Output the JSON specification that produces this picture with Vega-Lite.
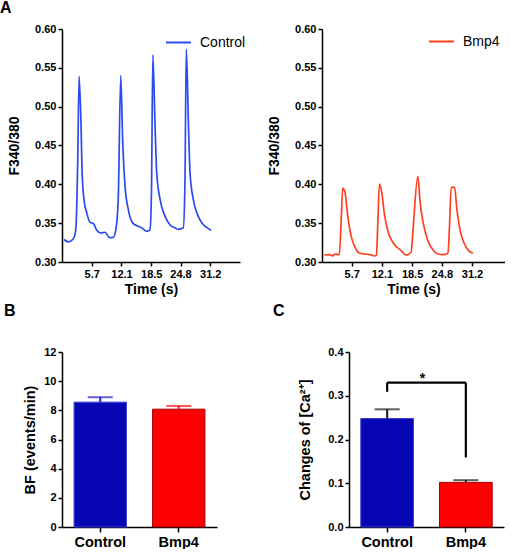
{
  "$schema": "https://vega.github.io/schema/vega-lite/v6.json",
  "background": "white",
  "padding": 0,
  "datasets": {
    "trace": [
      {"group": "Control", "t": -0.26, "v": 0.329},
      {"group": "Control", "t": 0.67, "v": 0.326},
      {"group": "Control", "t": 1.6, "v": 0.329},
      {"group": "Control", "t": 2.05, "v": 0.334},
      {"group": "Control", "t": 2.32, "v": 0.346},
      {"group": "Control", "t": 2.69, "v": 0.432},
      {"group": "Control", "t": 2.98, "v": 0.539},
      {"group": "Control", "t": 3.4, "v": 0.475},
      {"group": "Control", "t": 3.61, "v": 0.419},
      {"group": "Control", "t": 4.04, "v": 0.38},
      {"group": "Control", "t": 4.6, "v": 0.364},
      {"group": "Control", "t": 5.33, "v": 0.351},
      {"group": "Control", "t": 6.05, "v": 0.3495},
      {"group": "Control", "t": 6.78, "v": 0.341},
      {"group": "Control", "t": 7.64, "v": 0.3375},
      {"group": "Control", "t": 8.56, "v": 0.3383},
      {"group": "Control", "t": 9.5, "v": 0.3314},
      {"group": "Control", "t": 10.35, "v": 0.3318},
      {"group": "Control", "t": 10.9, "v": 0.342},
      {"group": "Control", "t": 11.4, "v": 0.38},
      {"group": "Control", "t": 11.94, "v": 0.54},
      {"group": "Control", "t": 12.37, "v": 0.454},
      {"group": "Control", "t": 12.86, "v": 0.398},
      {"group": "Control", "t": 13.57, "v": 0.3675},
      {"group": "Control", "t": 14.5, "v": 0.3504},
      {"group": "Control", "t": 15.7, "v": 0.346},
      {"group": "Control", "t": 16.45, "v": 0.344},
      {"group": "Control", "t": 17.5, "v": 0.3395},
      {"group": "Control", "t": 18.24, "v": 0.3417},
      {"group": "Control", "t": 18.55, "v": 0.39},
      {"group": "Control", "t": 18.85, "v": 0.5665},
      {"group": "Control", "t": 19.3, "v": 0.4795},
      {"group": "Control", "t": 19.68, "v": 0.415},
      {"group": "Control", "t": 20.4, "v": 0.3805},
      {"group": "Control", "t": 21.46, "v": 0.359},
      {"group": "Control", "t": 22.5, "v": 0.348},
      {"group": "Control", "t": 23.6, "v": 0.344},
      {"group": "Control", "t": 24.3, "v": 0.342},
      {"group": "Control", "t": 25.4, "v": 0.344},
      {"group": "Control", "t": 25.75, "v": 0.4},
      {"group": "Control", "t": 26.05, "v": 0.574},
      {"group": "Control", "t": 26.5, "v": 0.4795},
      {"group": "Control", "t": 26.85, "v": 0.415},
      {"group": "Control", "t": 27.55, "v": 0.3805},
      {"group": "Control", "t": 28.6, "v": 0.359},
      {"group": "Control", "t": 29.7, "v": 0.348},
      {"group": "Control", "t": 30.6, "v": 0.344},
      {"group": "Control", "t": 31.35, "v": 0.3408},
      {"group": "Bmp4", "t": -0.12, "v": 0.309},
      {"group": "Bmp4", "t": 0.94, "v": 0.3094},
      {"group": "Bmp4", "t": 1.66, "v": 0.308},
      {"group": "Bmp4", "t": 2.15, "v": 0.3103},
      {"group": "Bmp4", "t": 3.06, "v": 0.3094},
      {"group": "Bmp4", "t": 3.43, "v": 0.347},
      {"group": "Bmp4", "t": 3.79, "v": 0.395},
      {"group": "Bmp4", "t": 4.28, "v": 0.3897},
      {"group": "Bmp4", "t": 4.85, "v": 0.3597},
      {"group": "Bmp4", "t": 5.55, "v": 0.3339},
      {"group": "Bmp4", "t": 6.25, "v": 0.321},
      {"group": "Bmp4", "t": 7.3, "v": 0.3116},
      {"group": "Bmp4", "t": 8.38, "v": 0.3103},
      {"group": "Bmp4", "t": 9.65, "v": 0.3094},
      {"group": "Bmp4", "t": 10.5, "v": 0.3077},
      {"group": "Bmp4", "t": 10.93, "v": 0.309},
      {"group": "Bmp4", "t": 11.22, "v": 0.347},
      {"group": "Bmp4", "t": 11.57, "v": 0.4004},
      {"group": "Bmp4", "t": 12.07, "v": 0.3897},
      {"group": "Bmp4", "t": 12.63, "v": 0.3618},
      {"group": "Bmp4", "t": 13.35, "v": 0.3403},
      {"group": "Bmp4", "t": 14.4, "v": 0.3254},
      {"group": "Bmp4", "t": 15.3, "v": 0.319},
      {"group": "Bmp4", "t": 16.18, "v": 0.3146},
      {"group": "Bmp4", "t": 17.24, "v": 0.309},
      {"group": "Bmp4", "t": 18.3, "v": 0.3125},
      {"group": "Bmp4", "t": 18.66, "v": 0.338},
      {"group": "Bmp4", "t": 19.72, "v": 0.4103},
      {"group": "Bmp4", "t": 20.2, "v": 0.3768},
      {"group": "Bmp4", "t": 20.9, "v": 0.349},
      {"group": "Bmp4", "t": 21.85, "v": 0.3274},
      {"group": "Bmp4", "t": 22.9, "v": 0.3158},
      {"group": "Bmp4", "t": 23.97, "v": 0.3103},
      {"group": "Bmp4", "t": 25.0, "v": 0.3094},
      {"group": "Bmp4", "t": 26.1, "v": 0.3112},
      {"group": "Bmp4", "t": 26.44, "v": 0.347},
      {"group": "Bmp4", "t": 26.8, "v": 0.3962},
      {"group": "Bmp4", "t": 27.5, "v": 0.3962},
      {"group": "Bmp4", "t": 28.0, "v": 0.3682},
      {"group": "Bmp4", "t": 28.7, "v": 0.3403},
      {"group": "Bmp4", "t": 29.6, "v": 0.3232},
      {"group": "Bmp4", "t": 30.5, "v": 0.3146},
      {"group": "Bmp4", "t": 31.4, "v": 0.3112}
    ],
    "beat": [
      {"group": "Control", "mean": 8.56, "upper": 8.9},
      {"group": "Bmp4", "mean": 8.08, "upper": 8.3}
    ],
    "calcium": [
      {"group": "Control", "mean": 0.248, "upper": 0.269},
      {"group": "Bmp4", "mean": 0.102, "upper": 0.107}
    ],
    "bracket": [
      {"from": "Control", "to": "Control", "y": 0.309, "y2": 0.33},
      {"from": "Control", "to": "Bmp4", "y": 0.33, "y2": 0.33},
      {"from": "Bmp4", "to": "Bmp4", "y": 0.33, "y2": 0.159}
    ],
    "star": [
      {"group": "Control", "y": 0.338, "label": "*"}
    ]
  },
  "spacing": 7,
  "resolve": {"scale": {"x": "independent", "y": "independent", "color": "independent", "fill": "independent", "stroke": "independent"}},
  "vconcat": [
    {
      "spacing": 21,
      "resolve": {"scale": {"x": "independent", "y": "independent", "color": "independent"}},
      "hconcat": [
        {
          "width": 178,
          "height": 233,
          "title": {"text": "A", "dx": -62, "offset": 7},
          "data": {"name": "trace"},
          "transform": [{"filter": "datum.group === 'Control'"}],
          "mark": {"type": "line", "interpolate": "monotone", "strokeWidth": 1.7},
          "encoding": {
            "x": {"field": "t", "type": "quantitative",
                  "scale": {"domain": [-0.7, 37.6], "nice": false, "zero": false},
                  "axis": {"values": [5.7, 12.1, 18.5, 24.8, 31.2], "format": ".1f", "title": "Time (s)", "titlePadding": 3}},
            "y": {"field": "v", "type": "quantitative",
                  "scale": {"domain": [0.3, 0.6], "nice": false, "zero": false},
                  "axis": {"values": [0.3, 0.35, 0.4, 0.45, 0.5, 0.55, 0.6], "format": ".2f", "title": "F340/380", "titlePadding": 13}},
            "color": {"field": "group", "type": "nominal",
                      "scale": {"domain": ["Control"], "range": ["#2a4bf0"]},
                      "legend": {"title": null, "orient": "none", "legendX": 103, "legendY": 0, "symbolType": "stroke", "symbolSize": 625, "symbolStrokeWidth": 2, "labelFontSize": 14, "labelFontWeight": "normal", "labelOffset": 8, "padding": 0}}
          }
        },
        {
          "width": 183,
          "height": 233,
          "data": {"name": "trace"},
          "transform": [{"filter": "datum.group === 'Bmp4'"}],
          "mark": {"type": "line", "interpolate": "monotone", "strokeWidth": 1.7},
          "encoding": {
            "x": {"field": "t", "type": "quantitative",
                  "scale": {"domain": [-0.6, 38.2], "nice": false, "zero": false},
                  "axis": {"values": [5.7, 12.1, 18.5, 24.8, 31.2], "format": ".1f", "title": "Time (s)", "titlePadding": 3}},
            "y": {"field": "v", "type": "quantitative",
                  "scale": {"domain": [0.3, 0.6], "nice": false, "zero": false},
                  "axis": {"values": [0.3, 0.35, 0.4, 0.45, 0.5, 0.55, 0.6], "format": ".2f", "title": "F340/380", "titlePadding": 13}},
            "color": {"field": "group", "type": "nominal",
                      "scale": {"domain": ["Bmp4"], "range": ["#ff4020"]},
                      "legend": {"title": null, "orient": "none", "legendX": 106, "legendY": -1, "symbolType": "stroke", "symbolSize": 625, "symbolStrokeWidth": 2, "labelFontSize": 14, "labelFontWeight": "normal", "labelOffset": 8, "padding": 0}}
          }
        }
      ]
    },
    {
      "spacing": 56,
      "resolve": {"scale": {"x": "independent", "y": "independent", "fill": "independent", "stroke": "independent"}},
      "hconcat": [
        {
          "width": 155,
          "height": 175,
          "title": {"text": "B", "dx": -58, "offset": 27},
          "data": {"name": "beat"},
          "encoding": {
            "x": {"field": "group", "type": "nominal", "sort": null,
                  "scale": {"paddingInner": 0.333, "paddingOuter": 0.154},
                  "axis": {"title": null, "labelAngle": 0, "labelFontSize": 14.5, "labelPadding": 3, "tickSize": 5}}
          },
          "layer": [
            {
              "mark": {"type": "bar", "strokeWidth": 1},
              "encoding": {
                "y": {"field": "mean", "type": "quantitative",
                      "scale": {"domain": [0, 12], "nice": false},
                      "axis": {"values": [0, 2, 4, 6, 8, 10, 12], "title": "BF (events/min)", "titlePadding": 6, "titleFontSize": 14.5}},
                "fill": {"field": "group", "type": "nominal", "scale": {"domain": ["Control", "Bmp4"], "range": ["#0606b4", "#ff0000"]}, "legend": null},
                "stroke": {"field": "group", "type": "nominal", "scale": {"domain": ["Control", "Bmp4"], "range": ["#3a3ad0", "#a00000"]}, "legend": null}
              }
            },
            {
              "mark": {"type": "rule", "strokeWidth": 2},
              "encoding": {
                "y": {"field": "mean", "type": "quantitative",
                      "axis": {"values": [0, 2, 4, 6, 8, 10, 12], "title": "BF (events/min)", "titlePadding": 6, "titleFontSize": 14.5}},
                "y2": {"field": "upper"},
                "color": {"field": "group", "type": "nominal", "scale": {"domain": ["Control", "Bmp4"], "range": ["#2020c8", "#ff1010"]}, "legend": null}
              }
            },
            {
              "mark": {"type": "tick", "orient": "horizontal", "size": 25, "thickness": 2},
              "encoding": {
                "y": {"field": "upper", "type": "quantitative",
                      "axis": {"values": [0, 2, 4, 6, 8, 10, 12], "title": "BF (events/min)", "titlePadding": 6, "titleFontSize": 14.5}},
                "color": {"field": "group", "type": "nominal", "scale": {"domain": ["Control", "Bmp4"], "range": ["#2020c8", "#ff1010"]}, "legend": null}
              }
            }
          ]
        },
        {
          "width": 155,
          "height": 175,
          "title": {"text": "C", "dx": -76, "offset": 27},
          "encoding": {
            "x": {"field": "group", "type": "nominal", "sort": ["Control", "Bmp4"],
                  "scale": {"domain": ["Control", "Bmp4"], "paddingInner": 0.33, "paddingOuter": 0.15},
                  "axis": {"title": null, "labelAngle": 0, "labelFontSize": 14.5, "labelPadding": 3, "tickSize": 5}}
          },
          "layer": [
            {
              "data": {"name": "calcium"},
              "mark": {"type": "bar", "strokeWidth": 1},
              "encoding": {
                "y": {"field": "mean", "type": "quantitative",
                      "scale": {"domain": [0, 0.4], "nice": false},
                      "axis": {"values": [0, 0.1, 0.2, 0.3, 0.4], "format": ".1f", "title": "Changes of [Ca²⁺]", "titlePadding": 15, "titleFontSize": 14.5}},
                "fill": {"field": "group", "type": "nominal", "scale": {"domain": ["Control", "Bmp4"], "range": ["#0606b4", "#ff0000"]}, "legend": null},
                "stroke": {"field": "group", "type": "nominal", "scale": {"domain": ["Control", "Bmp4"], "range": ["#3a3ad0", "#a00000"]}, "legend": null}
              }
            },
            {
              "data": {"name": "calcium"},
              "mark": {"type": "rule", "strokeWidth": 2},
              "encoding": {
                "y": {"field": "mean", "type": "quantitative",
                      "axis": {"values": [0, 0.1, 0.2, 0.3, 0.4], "format": ".1f", "title": "Changes of [Ca²⁺]", "titlePadding": 15, "titleFontSize": 14.5}},
                "y2": {"field": "upper"},
                "color": {"value": "#1a1a1a"}
              }
            },
            {
              "data": {"name": "calcium"},
              "mark": {"type": "tick", "orient": "horizontal", "size": 25, "thickness": 2, "color": "#1a1a1a"},
              "encoding": {
                "y": {"field": "upper", "type": "quantitative",
                      "axis": {"values": [0, 0.1, 0.2, 0.3, 0.4], "format": ".1f", "title": "Changes of [Ca²⁺]", "titlePadding": 15, "titleFontSize": 14.5}}
              }
            },
            {
              "data": {"name": "bracket"},
              "mark": {"type": "rule", "strokeWidth": 2.2, "color": "#000"},
              "encoding": {
                "x": {"field": "from", "type": "nominal"},
                "x2": {"field": "to"},
                "y": {"field": "y", "type": "quantitative",
                      "axis": {"values": [0, 0.1, 0.2, 0.3, 0.4], "format": ".1f", "title": "Changes of [Ca²⁺]", "titlePadding": 15, "titleFontSize": 14.5}},
                "y2": {"field": "y2"}
              }
            },
            {
              "data": {"name": "star"},
              "mark": {"type": "text", "fontSize": 14, "fontWeight": "bold", "baseline": "middle", "align": "center", "color": "#000"},
              "encoding": {
                "x": {"field": "group", "type": "nominal", "bandPosition": 1.17},
                "y": {"field": "y", "type": "quantitative",
                      "axis": {"values": [0, 0.1, 0.2, 0.3, 0.4], "format": ".1f", "title": "Changes of [Ca²⁺]", "titlePadding": 15, "titleFontSize": 14.5}},
                "text": {"field": "label"}
              }
            }
          ]
        }
      ]
    }
  ],
  "config": {
    "font": "Liberation Sans",
    "view": {"stroke": null},
    "axis": {
      "grid": false,
      "domainColor": "#000",
      "domainWidth": 1.5,
      "tickColor": "#000",
      "tickWidth": 1.5,
      "tickSize": 4,
      "labelFont": "Liberation Sans",
      "labelFontWeight": "bold",
      "labelFontSize": 11,
      "labelColor": "#000",
      "labelPadding": 2,
      "titleFont": "Liberation Sans",
      "titleFontWeight": "bold",
      "titleFontSize": 14,
      "titleColor": "#000"
    },
    "legend": {"labelFont": "Liberation Sans", "labelColor": "#000"},
    "title": {"font": "Liberation Sans", "fontSize": 16, "fontWeight": "bold", "anchor": "start", "frame": "group", "color": "#000"}
  }
}
